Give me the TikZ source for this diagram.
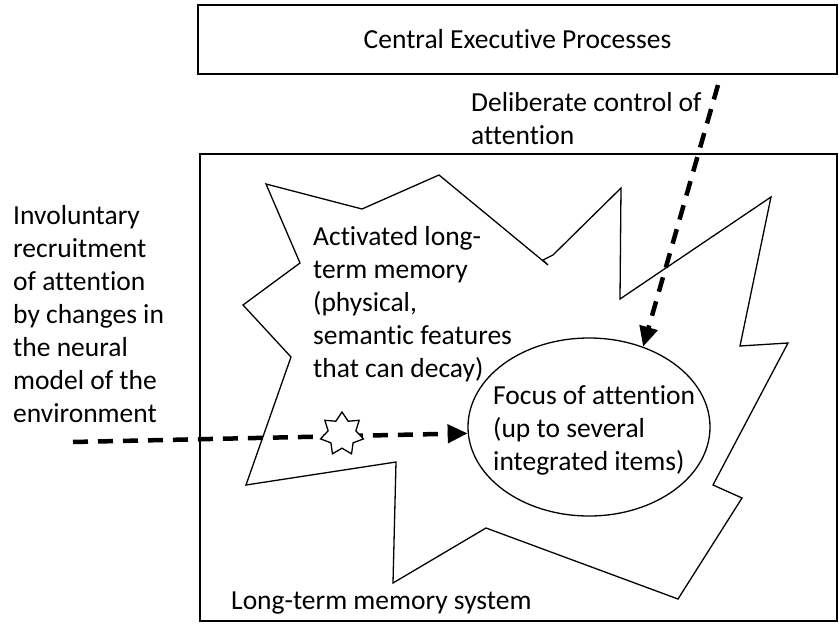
\documentclass[tikz,border=0pt]{standalone}
\usepackage{fontspec}
\setmainfont{Carlito}[Ligatures={NoCommon}]
\usetikzlibrary{arrows.meta,shapes.geometric}
\tikzset{
  outline/.style={line width=1.3pt, draw=black},
  dasharrow/.style={line width=4.5pt, dash pattern=on 15pt off 10pt,
    -{Triangle[length=20pt,width=18pt]}},
  lbl/.style={font=\fontsize{27.5}{33}\selectfont, inner sep=0pt, anchor=base west, align=left},
  boxnode/.style={outline, rectangle, inner sep=0pt, font=\fontsize{27.5}{33}\selectfont}
}
\begin{document}
\begin{tikzpicture}[x=1pt,y=-1pt]
\useasboundingbox[fill=white] (0,0) rectangle (839,634);
% boxes
\node[boxnode, minimum width=639pt, minimum height=69pt] (cep) at (517.5,39.5) {Central Executive Processes};
\node[boxnode, minimum width=637pt, minimum height=467pt] (ltm) at (518.5,387.5) {};
\node[lbl] (ltmlabel) at (231,609) {Long-term memory system};
% activated long-term memory outline
\draw[outline, line join=miter] (266,184) -- (362,209) -- (439,175) -- (548,265) -- (543,260) -- (553,255)
  -- (621,188) -- (620,299) -- (771,197) -- (740,346) -- (788,343) -- (713,485) -- (742,498)
  -- (678,599) -- (486,528) -- (393,583) -- (396,462) -- (246,485) -- (291,357) -- (243,305)
  -- (300,263) -- cycle;
\node[lbl] (altm) at (313,377) {Activated long-\\term memory\\(physical,\\semantic features\\that can decay)};
% focus of attention
\node[outline, ellipse, minimum width=242pt, minimum height=178pt, inner sep=0pt] (foc) at (589,427) {};
\node[lbl] (foctext) at (493,470) {Focus of attention\\(up to several\\integrated items)};
% labels
\node[lbl] (invol) at (13,422) {Involuntary\\recruitment\\of attention\\by changes in\\the neural\\model of the\\environment};
\node[lbl] (delib) at (471,144) {Deliberate control of\\attention};
% arrows
\coordinate (vstart) at (718,85);
\coordinate (hstart) at (73,442);
\draw[dasharrow] (vstart) -- (foc.56);
\draw[dasharrow] (hstart) -- (foc.183);
\node[star, star points=7, star point ratio=1.55, minimum size=44pt, inner sep=0pt,
      outline, fill=white] (blip) at (342,434) {};
\end{tikzpicture}
\end{document}
